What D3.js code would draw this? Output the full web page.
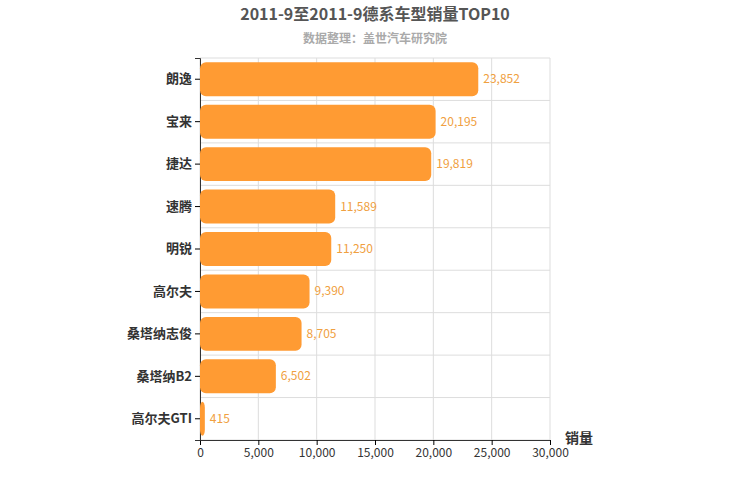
<!DOCTYPE html>
<html><head><meta charset="utf-8">
<script src="https://cdn.jsdelivr.net/npm/d3@7"></script>
<style>body{margin:0;background:#fff}text{font-family:"Noto Sans CJK SC","Noto Sans",sans-serif}</style>
</head><body><svg width="750" height="500"></svg>
<script>
const categories = ["朗逸","宝来","捷达","速腾","明锐","高尔夫","桑塔纳志俊","桑塔纳B2","高尔夫GTI"];
const sales = [23852,20195,19819,11589,11250,9390,8705,6502,415];
const xTicks = [0,5000,10000,15000,20000,25000,30000];

const svg = d3.select("svg");
const plotLeft = 200, plotRight = 550, plotTop = 58, plotBottom = 440;

let scaleX = d3.scaleLinear().domain([0,30000]).range([plotLeft,plotRight]);
let scaleY = d3.scaleBand().domain(categories).range([plotTop,plotBottom]).paddingInner(0.2).paddingOuter(0.1);
const step = scaleY.step();

// сетка
svg.selectAll(".vg").data(xTicks).enter().append("line")
  .attr("x1",d=>scaleX(d)).attr("x2",d=>scaleX(d)).attr("y1",plotTop).attr("y2",plotBottom)
  .attr("stroke","#ddd");
svg.selectAll(".hg").data(d3.range(categories.length+1)).enter().append("line")
  .attr("x1",plotLeft).attr("x2",plotRight).attr("y1",i=>plotTop+i*step).attr("y2",i=>plotTop+i*step)
  .attr("stroke","#ddd");

// оси
svg.append("g").attr("transform",`translate(0,${plotBottom})`)
  .call(d3.axisBottom(scaleX).tickValues(xTicks).tickFormat(d3.format(",")).tickSize(5))
  .call(g=>{g.select(".domain").attr("stroke","#333");g.selectAll("text").attr("font-size",12).attr("fill","#333");});
svg.append("g").attr("transform",`translate(${plotLeft},0)`)
  .call(d3.axisLeft(scaleY).tickSize(5))
  .call(g=>{g.select(".domain").attr("stroke","#333");g.selectAll("text").attr("font-size",13).attr("font-weight","bold").attr("fill","#333");});

// бары
svg.selectAll(".bar").data(categories).enter().append("rect")
  .attr("x",plotLeft).attr("y",c=>scaleY(c))
  .attr("width",(c,i)=>scaleX(sales[i])-plotLeft).attr("height",scaleY.bandwidth())
  .attr("rx",6).attr("fill","#ff9b33");
svg.selectAll(".lbl").data(categories).enter().append("text")
  .attr("x",(c,i)=>scaleX(sales[i])+5).attr("y",c=>scaleY(c)+scaleY.bandwidth()/2+4)
  .attr("font-size",12).attr("fill","#f0a040").text((c,i)=>d3.format(",")(sales[i]));

svg.append("text").attr("x",375).attr("y",20).attr("text-anchor","middle")
  .attr("font-size",16).attr("font-weight","bold").attr("fill","#555").text("2011-9至2011-9德系车型销量TOP10");
svg.append("text").attr("x",375).attr("y",43).attr("text-anchor","middle")
  .attr("font-size",12).attr("font-weight","bold").attr("fill","#aaa").text("数据整理：盖世汽车研究院");
svg.append("text").attr("x",565).attr("y",443).attr("font-size",14).attr("font-weight","bold").attr("fill","#333").text("销量");
</script></body></html>
